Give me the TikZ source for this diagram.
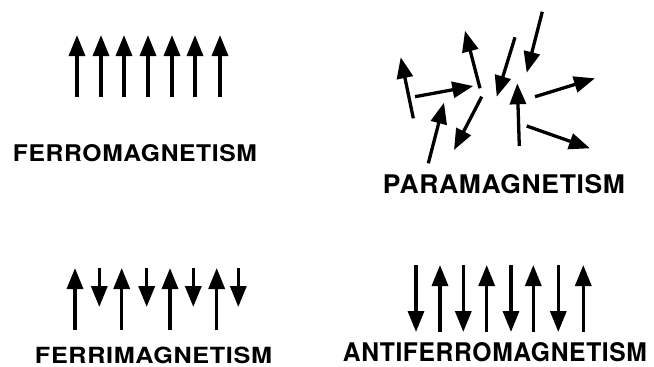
\documentclass[tikz,border=0pt]{standalone}
\usepackage{fontspec}
\setmainfont{TeX Gyre Heros}[LetterSpace=2.5]
\usetikzlibrary{arrows.meta}
\tikzset{
  spin/.style={line width=3.3pt, -{Triangle[width=16pt,length=21pt]}},
  lbl/.style={inner sep=0pt, font=\bfseries}
}
\newcommand{\fitlabel}[3]{\resizebox{#1pt}{#2pt}{#3}}
\begin{document}
\begin{tikzpicture}[x=1pt,y=-1pt]
\useasboundingbox (0,0) rectangle (654,367);
% Ferromagnetism
\foreach \x in {77,101,124,148,172,195,220}
  \draw[spin] (\x,97) -- (\x,35);
\node[lbl] (ferro) at (135,153.5) {\fitlabel{244}{17}{FERROMAGNETISM}};
% Paramagnetism
\draw[spin] (413.3,118.3) -- (400.7,57.3);
\draw[spin] (415,96.7) -- (473.3,86);
\draw[spin] (480,88.3) -- (465,30.7);
\draw[spin] (428.3,163.3) -- (444,102.7);
\draw[spin] (481.7,96.7) -- (454,150);
\draw[spin] (515,37.3) -- (496.7,96.7);
\draw[spin] (542.3,11.7) -- (526.7,72.7);
\draw[spin] (519.3,146) -- (517.3,83.3);
\draw[spin] (535,96.7) -- (595,78.3);
\draw[spin] (526.7,126) -- (590,148.3);
\node[lbl] (para) at (504,184) {\fitlabel{242}{19}{PARAMAGNETISM}};
% Ferrimagnetism
\foreach \x in {75,121.7,170,216.7}
  \draw[spin] (\x,330) -- (\x,268);
\foreach \x in {99.3,146.7,193.3,238.3}
  \draw[spin] (\x,268) -- (\x,307);
\node[lbl] (ferri) at (153.5,355) {\fitlabel{237}{16.5}{FERRIMAGNETISM}};
% Antiferromagnetism
\foreach \x in {416,463.3,511,558.3}
  \draw[spin] (\x,265) -- (\x,332);
\foreach \x in {440,486.7,533.3,583.3}
  \draw[spin] (\x,332) -- (\x,265);
\node[lbl] (anti) at (495,352.5) {\fitlabel{304}{19}{ANTIFERROMAGNETISM}};
\end{tikzpicture}
\end{document}
